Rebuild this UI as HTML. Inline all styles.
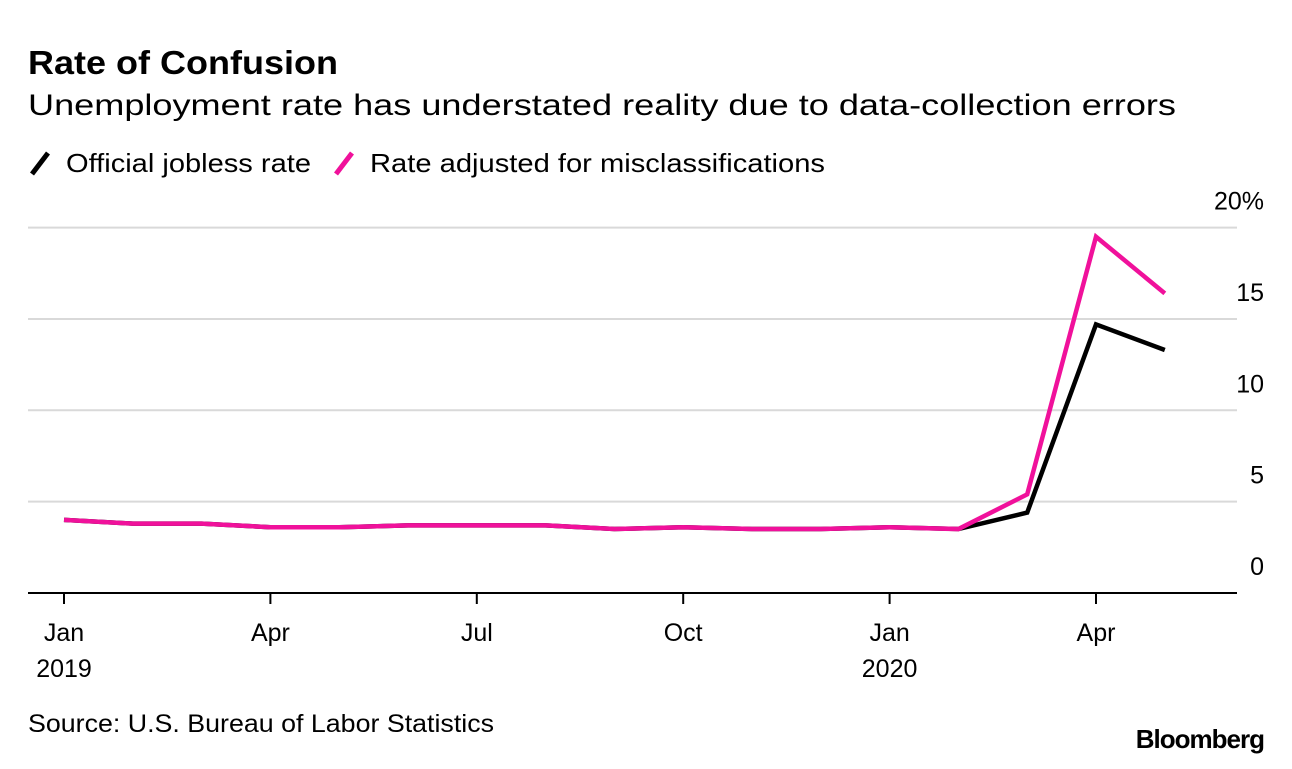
<!DOCTYPE html>
<html><head><meta charset="utf-8"><style>
body{margin:0;background:#fff;width:1292px;height:764px;overflow:hidden;font-family:"Liberation Sans",Arial,sans-serif;}
svg text{font-family:"Liberation Sans",Arial,sans-serif;}
</style></head><body>
<svg id="chart" width="1292" height="764">
<text x="28" y="74" font-size="33" font-weight="bold" fill="#000" textLength="310" lengthAdjust="spacingAndGlyphs">Rate of Confusion</text>
<text x="28" y="115" font-size="30" fill="#000" textLength="1148" lengthAdjust="spacingAndGlyphs">Unemployment rate has understated reality due to data-collection errors</text>
<g><line x1="32" y1="174" x2="48" y2="153" stroke="#000" stroke-width="5"/><text x="66" y="172" font-size="26" textLength="245" lengthAdjust="spacingAndGlyphs">Official jobless rate</text></g>
<g><line x1="336" y1="174" x2="352" y2="153" stroke="#f0119b" stroke-width="5"/><text x="370" y="172" font-size="26" textLength="455" lengthAdjust="spacingAndGlyphs">Rate adjusted for misclassifications</text></g>
<g id="grid"></g><g id="xaxis"></g><g id="series"></g>
<text x="28" y="732" font-size="25" fill="#000" textLength="466" lengthAdjust="spacingAndGlyphs">Source: U.S. Bureau of Labor Statistics</text>
<text x="1264" y="748" font-size="26" font-weight="bold" text-anchor="end" letter-spacing="-1" fill="#000">Bloomberg</text>
</svg>
<script>
const months=["Jan","Feb","Mar","Apr","May","Jun","Jul","Aug","Sep","Oct","Nov","Dec","Jan","Feb","Mar","Apr","May"];
const official=[4.0,3.8,3.8,3.6,3.6,3.7,3.7,3.7,3.5,3.6,3.5,3.5,3.6,3.5,4.4,14.7,13.3];
const adjusted=[4.0,3.8,3.8,3.6,3.6,3.7,3.7,3.7,3.5,3.6,3.5,3.5,3.6,3.5,5.4,19.5,16.4];
const yTicks=[0,5,10,15,20];
const yTickLabels=["0","5","10","15","20%"];
const xTickIdx=[0,3,6,9,12,15];
const xTickLabels=["Jan","Apr","Jul","Oct","Jan","Apr"];
const xYearLabels=["2019","","","","2020",""];
const NS="http://www.w3.org/2000/svg";
const x=i=>64+i*68.8;
const y=v=>593-v*18.27;
function mk(t,a,p){const e=document.createElementNS(NS,t);for(const k in a)e.setAttribute(k,a[k]);p.appendChild(e);return e;}
const grid=document.getElementById('grid');
yTicks.forEach((v,i)=>{
 const l=mk('line',{x1:28,x2:1237,y1:y(v),y2:y(v),stroke:v===0?'#000':'#d9d9d9','stroke-width':2},grid);
 
 
 const t=mk('text',{x:1264,y:y(v)-18,'font-size':25,'text-anchor':'end'},grid);t.textContent=yTickLabels[i];
 
 
});
const xa=document.getElementById('xaxis');
xTickIdx.forEach((idx,i)=>{
 const l=mk('line',{x1:x(idx),x2:x(idx),y1:593,y2:604,stroke:'#000','stroke-width':2},xa);
 
 
 const t=mk('text',{x:x(idx),y:641,'font-size':25,'text-anchor':'middle'},xa);t.textContent=xTickLabels[i];
 
 
 if(xYearLabels[i]){const t2=mk('text',{x:x(idx),y:677,'font-size':25,'text-anchor':'middle'},xa);t2.textContent=xYearLabels[i];
 
 }
});
const s=document.getElementById('series');
function line(d,c,n){const p=mk('polyline',{points:d.map((v,i)=>x(i)+','+y(v)).join(' '),fill:'none',stroke:c,'stroke-width':4.5,'stroke-linejoin':'miter'},s);
 
 }
line(official,'#000','official-rate-line');
line(adjusted,'#f0119b','adjusted-rate-line');
</script>
</body></html>
